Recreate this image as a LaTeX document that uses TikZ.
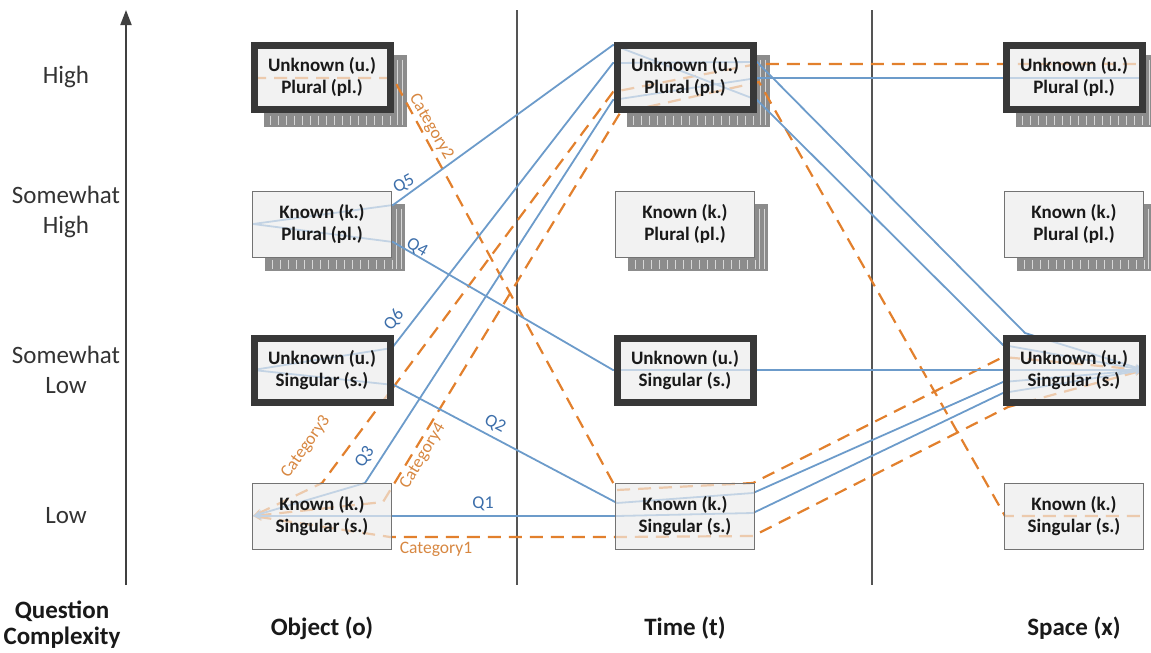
\documentclass[tikz,border=0pt]{standalone}
\usepackage{fontspec}
\setmainfont{Carlito}
\usetikzlibrary{calc,arrows.meta}
\pgfdeclarelayer{shadowlayer}
\pgfdeclarelayer{linelayer}
\pgfsetlayers{shadowlayer,linelayer,main}
\definecolor{qblue}{RGB}{108,155,202}
\definecolor{qtext}{RGB}{60,110,170}
\definecolor{corange}{RGB}{226,128,45}
\definecolor{ctext}{RGB}{215,135,65}
\definecolor{boxfill}{RGB}{242,242,242}
\definecolor{sepgray}{RGB}{85,85,85}
\definecolor{stackgray}{RGB}{140,140,140}
\definecolor{tickgray}{RGB}{215,215,215}
\tikzset{
  box/.style={draw=black!55, line width=0.8pt, fill=boxfill, fill opacity=0.65, text opacity=1,
    minimum width=139pt, minimum height=66pt, align=center, inner sep=0pt,
    font=\bfseries\fontsize{19}{22.5}\selectfont, text=black!90},
  thickbox/.style={box, draw=black!78, line width=7pt, minimum width=136pt, minimum height=64pt},
  qline/.style={draw=qblue, line width=1.8pt},
  cline/.style={draw=corange, line width=2.2pt, dash pattern=on 13pt off 8pt},
  qlab/.style={text=qtext, font=\fontsize{18}{18}\selectfont, inner sep=1pt},
  clab/.style={text=ctext, font=\fontsize{17.5}{18}\selectfont, inner sep=1pt},
  axlab/.style={text=black!80, align=center, font=\fontsize{25}{30}\selectfont},
  collab/.style={text=black!90, align=center, font=\bfseries\fontsize{25}{26}\selectfont},
  sepline/.style={draw=sepgray, line width=2pt},
  tipL/.style={{Stealth[length=9pt,width=7pt]}-},
  tipR/.style={-{Stealth[length=9pt,width=7pt]}},
  tipLR/.style={{Stealth[length=9pt,width=7pt]}-{Stealth[length=9pt,width=7pt]}},
}
\newcommand\stackshadow[1]{%
  \fill[stackgray] ($(#1.north west)+(13,13)$) rectangle ($(#1.south east)+(13,14)$);
  \foreach \i in {0,...,15}{\draw[tickgray, line width=0.8pt] ($(#1.south west)+(20+8*\i,3)$) -- ++(0,9);}
  \draw[tickgray, line width=0.8pt] ($(#1.north east)+(4,18)$) -- ($(#1.south east)+(4,12)$);
  \draw[tickgray, line width=0.8pt] ($(#1.north east)+(9,18)$) -- ($(#1.south east)+(9,12)$);
}
\newcommand\underlay[1]{\fill[boxfill] (#1.north west) rectangle (#1.south east);}
\begin{document}
\begin{tikzpicture}[x=1pt,y=-1pt]
\useasboundingbox (0,0) rectangle (1151,653);
% boxes
\node[thickbox] (oupl) at (322,77) {Unknown (u.)\\Plural (pl.)};
\node[box] (okpl) at (322,224) {Known (k.)\\Plural (pl.)};
\node[thickbox] (ous) at (322,370) {Unknown (u.)\\Singular (s.)};
\node[box] (oks) at (322,516) {Known (k.)\\Singular (s.)};
\node[thickbox] (tupl) at (685,77) {Unknown (u.)\\Plural (pl.)};
\node[box] (tkpl) at (685,224) {Known (k.)\\Plural (pl.)};
\node[thickbox] (tus) at (685,370) {Unknown (u.)\\Singular (s.)};
\node[box] (tks) at (685,516) {Known (k.)\\Singular (s.)};
\node[thickbox] (supl) at (1074,77) {Unknown (u.)\\Plural (pl.)};
\node[box] (skpl) at (1074,224) {Known (k.)\\Plural (pl.)};
\node[thickbox] (sus) at (1074,370) {Unknown (u.)\\Singular (s.)};
\node[box] (sks) at (1074,516) {Known (k.)\\Singular (s.)};
% stacks and opaque underlays
\begin{pgfonlayer}{shadowlayer}
\stackshadow{oupl}\stackshadow{okpl}
\stackshadow{tupl}\stackshadow{tkpl}
\stackshadow{supl}\stackshadow{skpl}
\underlay{oupl}\underlay{okpl}\underlay{ous}\underlay{oks}
\underlay{tupl}\underlay{tkpl}\underlay{tus}\underlay{tks}
\underlay{supl}\underlay{skpl}\underlay{sus}\underlay{sks}
\end{pgfonlayer}
% axis and separators
\coordinate (axb) at (126,585);
\coordinate (axt) at (126,10);
\coordinate (s1t) at (517,10);
\coordinate (s1b) at (517,585);
\coordinate (s2t) at (872,10);
\coordinate (s2b) at (872,585);
\begin{pgfonlayer}{linelayer}
\draw[line width=2pt, draw=black!75, -{Triangle[length=15pt,width=11pt]}] (axb) -- (axt);
\draw[sepline] (s1t) -- (s1b);
\draw[sepline] (s2t) -- (s2b);
% category paths (orange dashed)
\draw[cline,tipLR] ($(oks.center)+(-69,0)$) -- ($(oks.center)+(68,21)$) -- ($(tks.center)+(-68,21)$) -- ($(tks.center)+(68,20)$) -- ($(sus.center)+(-66,37)$) -- ($(sus.center)+(70,0)$);
\draw[cline,tipR] ($(oupl.center)+(-69,1)$) -- ($(oupl.center)+(71,1)$) -- ($(tks.center)+(-68,-26)$) -- ($(tks.center)+(68,-33)$) -- ($(sus.center)+(-71,-13)$) -- ($(sus.center)+(70,0)$);
\draw[cline,tipL] ($(oks.center)+(-69,0)$) -- ($(oks.center)+(0,-33)$) -- ($(tupl.center)+(-72,15)$) -- ($(tupl.center)+(72,-13)$) -- ($(supl.center)+(-71,-13)$) -- ($(supl.center)+(70,-13)$);
\draw[cline,tipL] ($(oks.center)+(-69,0)$) -- ($(oks.center)+(61,-14)$) -- ($(tupl.center)+(-65,36)$) -- ($(tupl.center)+(74,5)$) -- ($(sks.center)+(-69,0)$) -- ($(sks.center)+(69,0)$);
% question paths (blue)
\draw[qline,tipLR] ($(oks.center)+(-69,0)$) -- ($(oks.center)+(68,0)$) -- ($(tks.center)+(-68,0)$) -- ($(tks.center)+(68,-3)$) -- ($(sus.center)+(-71,23)$) -- ($(sus.center)+(70,0)$);
\draw[qline,tipR] ($(ous.center)+(-69,0)$) -- ($(ous.center)+(72,15)$) -- ($(tks.center)+(-68,-13)$) -- ($(tks.center)+(68,-23)$) -- ($(sus.center)+(-71,12)$) -- ($(sus.center)+(70,0)$);
\draw[qline,tipL] ($(oks.center)+(-69,0)$) -- ($(oks.center)+(43,-33)$) -- ($(tupl.center)+(-72,23)$) -- ($(tupl.center)+(72,1)$) -- ($(supl.center)+(-71,1)$) -- ($(supl.center)+(70,1)$);
\draw[qline,tipR] ($(okpl.center)+(-69,0)$) -- ($(okpl.center)+(71,18)$) -- ($(tus.center)+(-72,0)$) -- ($(tus.center)+(72,0)$) -- ($(sus.center)+(-71,0)$) -- ($(sus.center)+(70,0)$);
\draw[qline,tipR] ($(okpl.center)+(-69,0)$) -- ($(okpl.center)+(71,-19)$) -- ($(tupl.center)+(-72,-32)$) -- ($(tupl.center)+(72,23)$) -- ($(sus.center)+(-71,-25)$) -- ($(sus.center)+(70,0)$);
\draw[qline,tipR] ($(ous.center)+(-69,0)$) -- ($(ous.center)+(70,-22)$) -- ($(tupl.center)+(-72,-14)$) -- ($(tupl.center)+(72,-15)$) -- ($(sus.center)+(-49,-37)$) -- ($(sus.center)+(70,0)$);
\end{pgfonlayer}
% path labels
\node[qlab] (q1) at (483,504) {Q1};
\node[qlab, rotate=-28] (q2) at (495,424) {Q2};
\node[qlab, rotate=57] (q3) at (365,457) {Q3};
\node[qlab, rotate=-30] (q4) at (417,248) {Q4};
\node[qlab, rotate=30] (q5) at (404,184) {Q5};
\node[qlab, rotate=52] (q6) at (394,320) {Q6};
\node[clab] (c1) at (436,549) {Category1};
\node[clab, rotate=-60] (c2) at (431,127) {Category2};
\node[clab, rotate=55] (c3) at (306,447) {Category3};
\node[clab, rotate=59] (c4) at (423,456) {Category4};
% axis labels
\node[axlab] (lhigh) at (66,77) {High};
\node[axlab] (lsh) at (66,212) {Somewhat\\High};
\node[axlab] (lsl) at (66,370) {Somewhat\\Low};
\node[axlab] (llow) at (66,516) {Low};
\node[collab] (lqc) at (62,625) {Question\\Complexity};
\node[collab] (lobj) at (322,628) {Object (o)};
\node[collab] (ltime) at (685,628) {Time (t)};
\node[collab] (lspace) at (1074,628) {Space (x)};
\end{tikzpicture}
\end{document}
